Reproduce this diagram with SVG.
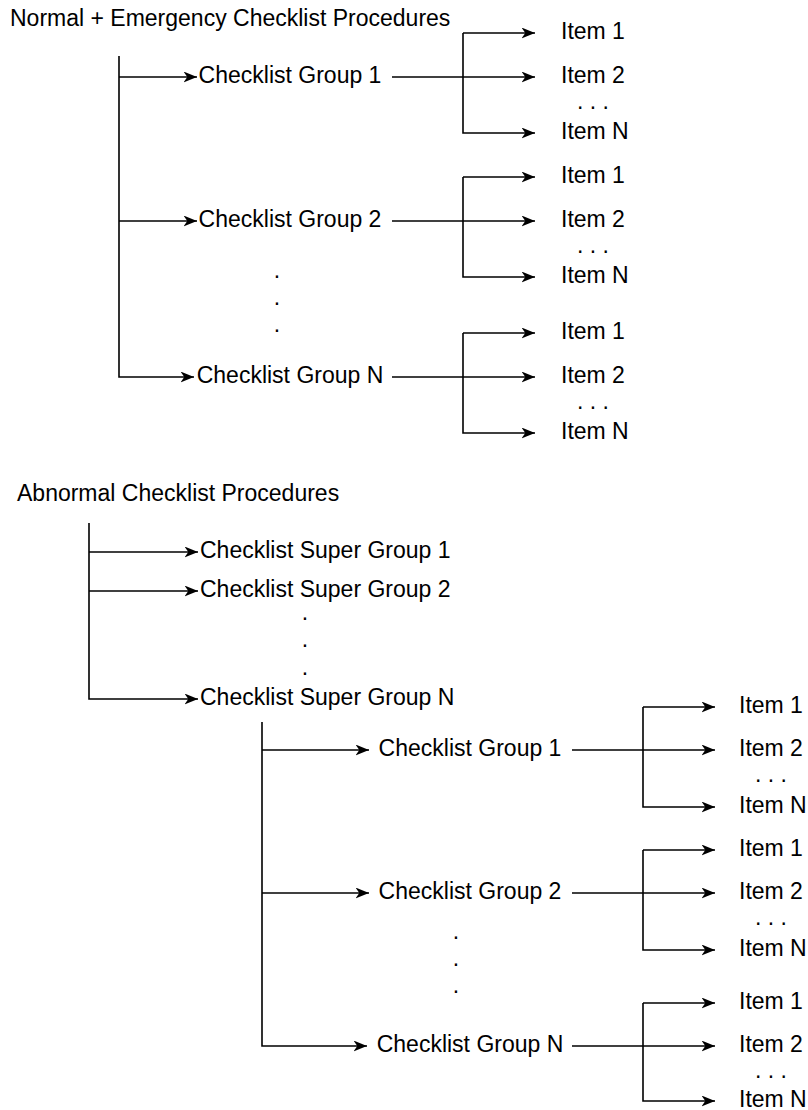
<svg xmlns="http://www.w3.org/2000/svg" width="808" height="1110" viewBox="0 0 808 1110">
  <defs>
    <style>
      .t { font-family: "Liberation Sans", Arial, Helvetica, sans-serif; font-size: 23px; fill: #000; }
      .c { text-anchor: middle; }
      .ln { fill: none; stroke: #000; stroke-width: 1.6; }
    </style>
    <marker id="arr" markerUnits="userSpaceOnUse" markerWidth="16" markerHeight="14" refX="13.5" refY="5.5" orient="auto">
      <path d="M0,0 L13.5,5.5 L0,11 L3.8,5.5 Z" fill="#000"/>
    </marker>
  </defs>
  <rect width="808" height="1110" fill="#fff"/>

  <!-- ===== Normal + Emergency checklist tree ===== -->
  <g id="title-normal"><text class="t" x="10" y="26">Normal + Emergency Checklist Procedures</text></g>

  <g id="ne-group-1"><text class="t c" x="290" y="83">Checklist Group 1</text></g>
  <g id="ne-group-2"><text class="t c" x="290" y="227">Checklist Group 2</text></g>
  <g id="ne-group-dots">
    <text class="t c" x="277" y="278">.</text>
    <text class="t c" x="277" y="305">.</text>
    <text class="t c" x="277" y="332">.</text>
  </g>
  <g id="ne-group-n"><text class="t c" x="290" y="383">Checklist Group N</text></g>

  <g id="ne-g1-items">
    <text class="t" x="561" y="39">Item 1</text>
    <text class="t" x="561" y="83">Item 2</text>
    <text class="t c" x="593" y="109">. . .</text>
    <text class="t" x="561" y="139">Item N</text>
  </g>
  <g id="ne-g2-items">
    <text class="t" x="561" y="183">Item 1</text>
    <text class="t" x="561" y="227">Item 2</text>
    <text class="t c" x="593" y="253">. . .</text>
    <text class="t" x="561" y="283">Item N</text>
  </g>
  <g id="ne-gn-items">
    <text class="t" x="561" y="339">Item 1</text>
    <text class="t" x="561" y="383">Item 2</text>
    <text class="t c" x="593" y="409">. . .</text>
    <text class="t" x="561" y="439">Item N</text>
  </g>

  <!-- ===== Abnormal checklist tree ===== -->
  <g id="title-abnormal"><text class="t" x="17" y="501">Abnormal Checklist Procedures</text></g>

  <g id="ab-super-1"><text class="t" x="200" y="558">Checklist Super Group 1</text></g>
  <g id="ab-super-2"><text class="t" x="200" y="597">Checklist Super Group 2</text></g>
  <g id="ab-super-dots">
    <text class="t c" x="305" y="620">.</text>
    <text class="t c" x="305" y="647">.</text>
    <text class="t c" x="305" y="675">.</text>
  </g>
  <g id="ab-super-n"><text class="t" x="200" y="705">Checklist Super Group N</text></g>

  <g id="ab-group-1"><text class="t c" x="470" y="756">Checklist Group 1</text></g>
  <g id="ab-group-2"><text class="t c" x="470" y="899">Checklist Group 2</text></g>
  <g id="ab-group-dots">
    <text class="t c" x="456" y="939">.</text>
    <text class="t c" x="456" y="966">.</text>
    <text class="t c" x="456" y="993">.</text>
  </g>
  <g id="ab-group-n"><text class="t c" x="470" y="1052">Checklist Group N</text></g>

  <g id="ab-g1-items">
    <text class="t" x="739" y="713">Item 1</text>
    <text class="t" x="739" y="756">Item 2</text>
    <text class="t c" x="771" y="782">. . .</text>
    <text class="t" x="739" y="813">Item N</text>
  </g>
  <g id="ab-g2-items">
    <text class="t" x="739" y="856">Item 1</text>
    <text class="t" x="739" y="899">Item 2</text>
    <text class="t c" x="771" y="925">. . .</text>
    <text class="t" x="739" y="956">Item N</text>
  </g>
  <g id="ab-gn-items">
    <text class="t" x="739" y="1009">Item 1</text>
    <text class="t" x="739" y="1052">Item 2</text>
    <text class="t c" x="771" y="1078">. . .</text>
    <text class="t" x="739" y="1107">Item N</text>
  </g>

  <!-- ===== connectors ===== -->
  <g id="connectors" class="ln">
    <!-- normal/emergency trunk -->
    <path d="M119,56 V377 H194" marker-end="url(#arr)"/>
    <path d="M119,77 H197" marker-end="url(#arr)"/>
    <path d="M119,221 H197" marker-end="url(#arr)"/>

    <!-- group 1 fan-out -->
    <path d="M392,77 H535" marker-end="url(#arr)"/>
    <path d="M463,33 H535" marker-end="url(#arr)"/>
    <path d="M463,33 V133 H535" marker-end="url(#arr)"/>
    <!-- group 2 fan-out -->
    <path d="M392,221 H535" marker-end="url(#arr)"/>
    <path d="M463,177 H535" marker-end="url(#arr)"/>
    <path d="M463,177 V277 H535" marker-end="url(#arr)"/>
    <!-- group N fan-out -->
    <path d="M392,377 H535" marker-end="url(#arr)"/>
    <path d="M463,333 H535" marker-end="url(#arr)"/>
    <path d="M463,333 V433 H535" marker-end="url(#arr)"/>

    <!-- abnormal trunk -->
    <path d="M89,523 V699 H198" marker-end="url(#arr)"/>
    <path d="M89,552 H198" marker-end="url(#arr)"/>
    <path d="M89,591 H198" marker-end="url(#arr)"/>

    <!-- super group N trunk -->
    <path d="M262,722 V1046 H367" marker-end="url(#arr)"/>
    <path d="M262,750 H369" marker-end="url(#arr)"/>
    <path d="M262,893 H369" marker-end="url(#arr)"/>

    <!-- lower group 1 fan-out -->
    <path d="M572,750 H715" marker-end="url(#arr)"/>
    <path d="M643,707 H715" marker-end="url(#arr)"/>
    <path d="M643,707 V807 H715" marker-end="url(#arr)"/>
    <!-- lower group 2 fan-out -->
    <path d="M572,893 H715" marker-end="url(#arr)"/>
    <path d="M643,850 H715" marker-end="url(#arr)"/>
    <path d="M643,850 V950 H715" marker-end="url(#arr)"/>
    <!-- lower group N fan-out -->
    <path d="M572,1046 H715" marker-end="url(#arr)"/>
    <path d="M643,1003 H715" marker-end="url(#arr)"/>
    <path d="M643,1003 V1101 H715" marker-end="url(#arr)"/>
  </g>
</svg>
